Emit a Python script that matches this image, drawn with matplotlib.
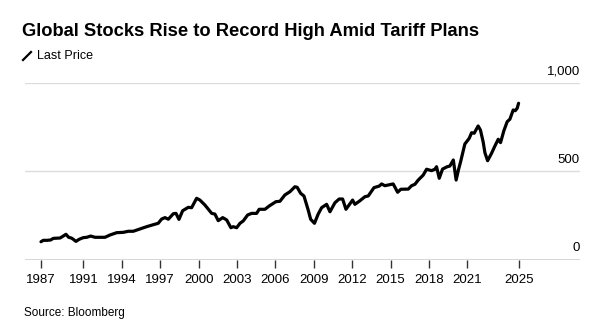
import matplotlib.pyplot as plt
from matplotlib.lines import Line2D
import matplotlib.transforms as mtransforms

# Monthly-ish index level, decimal year vs. price
years = [1987.68, 1987.86, 1988.17, 1988.44, 1988.64, 1989.17, 1989.42, 1989.63,
         1989.84, 1990.05, 1990.20, 1990.41, 1990.67, 1990.98, 1991.25, 1991.56,
         1991.90, 1992.68, 1993.07, 1993.59, 1994.11, 1994.50, 1994.89, 1995.41,
         1995.94, 1996.45, 1996.84, 1997.11, 1997.37, 1997.63, 1998.02, 1998.23,
         1998.46, 1998.75, 1999.19, 1999.45, 1999.84, 2000.10, 2000.49, 2001.02,
         2001.27, 2001.53, 2001.88, 2002.19, 2002.52, 2002.70, 2002.97, 2003.23,
         2003.48, 2003.83, 2004.14, 2004.53, 2004.73, 2005.18, 2005.52, 2006.04,
         2006.35, 2006.74, 2007.13, 2007.52, 2007.70, 2007.97, 2008.23, 2008.56,
         2008.75, 2009.05, 2009.34, 2009.61, 2010.00, 2010.26, 2010.65, 2010.98,
         2011.25, 2011.51, 2012.03, 2012.21, 2012.60, 2012.99, 2013.25, 2013.70,
         2014.11, 2014.30, 2014.55, 2015.20, 2015.55, 2015.80, 2016.38, 2016.64,
         2016.90, 2017.16, 2017.55, 2017.81, 2018.20, 2018.46, 2018.59, 2018.80,
         2019.06, 2019.42, 2019.63, 2019.90, 2020.12, 2020.30, 2020.47, 2020.80,
         2021.14, 2021.33, 2021.53, 2021.84, 2022.02, 2022.23, 2022.37, 2022.58,
         2022.89, 2023.15, 2023.41, 2023.59, 2023.85, 2024.11, 2024.32, 2024.58,
         2024.74, 2024.89, 2025.00]
prices = [103, 111, 111, 113, 122, 124, 135, 145,
          128, 124, 117, 105, 117, 126, 128, 135,
          128, 128, 141, 154, 156, 162, 162, 175,
          188, 199, 207, 231, 239, 230, 261, 263,
          229, 278, 297, 295, 348, 338, 310, 263,
          259, 222, 239, 226, 182, 188, 182, 207,
          220, 254, 263, 263, 286, 286, 305, 329,
          331, 367, 385, 413, 410, 376, 361, 282,
          230, 207, 259, 295, 314, 272, 323, 344,
          344, 286, 338, 314, 334, 357, 361, 408,
          417, 429, 419, 429, 382, 399, 400, 419,
          427, 451, 479, 512, 504, 512, 526, 461,
          513, 526, 530, 564, 451, 508, 554, 654,
          686, 718, 715, 756, 733, 667, 605, 560,
          602, 643, 681, 662, 729, 780, 794, 846,
          842, 856, 884]

tick_pos = [1987.68, 1991, 1994, 1997, 2000, 2003, 2006, 2009, 2012, 2015, 2018, 2021, 2025]
tick_labels = ["1987", "1991", "1994", "1997", "2000", "2003", "2006", "2009",
               "2012", "2015", "2018", "2021", "2025"]
y_levels = [0, 500, 1000]
y_labels = ["0", "500", "1,000"]

plt.rcParams["font.family"] = ["Liberation Sans", "DejaVu Sans"]

W, H = 597, 335
fig = plt.figure(figsize=(W / 100, H / 100), dpi=100)
ax = fig.add_axes([25 / W, 1 - 260 / H, 555 / W, (260 - 82.7) / H])

# Grid lines and price line
for lv in y_levels[1:]:
    ax.axhline(lv, color="#dcdcdc", linewidth=1.0, zorder=1)
ax.axhline(0, color="#333333", linewidth=1.0, zorder=2)
ax.plot(years, prices, color="black", linewidth=2.3, solid_joinstyle="round",
        solid_capstyle="round", zorder=3)

ax.set_xlim(1986.43, 2029.8)
ax.set_ylim(0, 1000)
for s in ax.spines.values():
    s.set_visible(False)
ax.set_yticks([])
ax.set_xticks(tick_pos)
ax.set_xticklabels(tick_labels, fontsize=9.5, color="black")
ax.tick_params(axis="x", length=6, width=1, color="#333333", pad=4)

# Right-side level labels sitting above the grid lines
trans = mtransforms.blended_transform_factory(ax.transAxes, ax.transData)
for lv, lab in zip(y_levels, y_labels):
    ax.annotate(lab, xy=(1.0, lv), xycoords=trans, xytext=(0, 4),
                textcoords="offset points", ha="right", va="bottom",
                fontsize=9.5, color="black")

# Title, legend and source
fig.text(22 / W, 1 - 31 / H, "Global Stocks Rise to Record High Amid Tariff Plans",
         fontsize=13.2, fontweight="bold", va="center", ha="left")
fig.add_artist(Line2D([23 / W, 31 / W], [1 - 60 / H, 1 - 52 / H], color="black",
                      linewidth=1.6, transform=fig.transFigure))
fig.text(37 / W, 1 - 56 / H, "Last Price", fontsize=9, va="center", ha="left")
fig.text(24 / W, 1 - 313 / H, "Source: Bloomberg", fontsize=8.5, va="center", ha="left")

fig.savefig("out.png", dpi=100)
